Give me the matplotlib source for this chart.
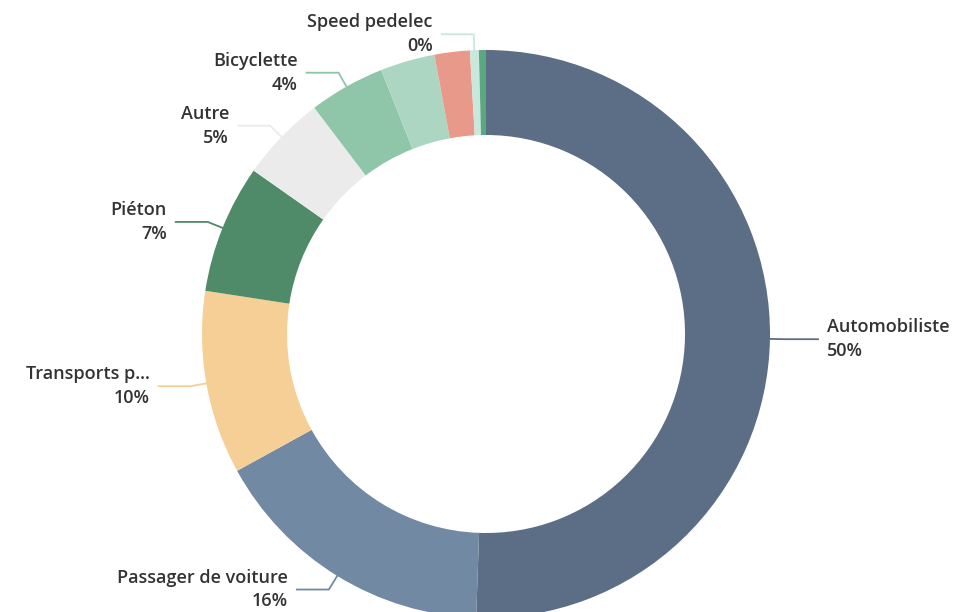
import numpy as np
import matplotlib.pyplot as plt

plt.rcParams['font.family'] = ['Open Sans', 'DejaVu Sans']

# share of trips by mode (clockwise from 12 o'clock)
modes = ['Automobiliste', 'Passager de voiture', 'Transports p...', 'Piéton',
         'Autre', 'Bicyclette', '', '', 'Speed pedelec', '']
shares = [50.4, 16.4, 10.4, 7.3, 4.9, 4.3, 3.1, 2.0, 0.5, 0.4]
colors = ['#5b6e86', '#7189a3', '#f5cf96', '#4f8a69', '#ebebeb',
          '#8fc5a8', '#acd6c2', '#e8998a', '#c9e8dc', '#5aa880']

W, H = 958, 612
cx, cy, r, ring = 486, H - 334, 284, 85

fig = plt.figure(figsize=(W / 100, H / 100), dpi=100)
ax = fig.add_axes([0, 0, 1, 1])

ax.pie(shares, colors=colors, center=(cx, cy), radius=r, startangle=90,
       counterclock=False, wedgeprops=dict(width=ring, linewidth=0))

# pie() resets the limits, so set them afterwards
ax.set_xlim(0, W)
ax.set_ylim(0, H)
ax.set_aspect('equal')
ax.axis('off')

total = sum(shares)
start = 0.0
for name, val, col in zip(modes, shares, colors):
    mid = start + val / total * 360 / 2
    start += val / total * 360
    if not name:
        continue
    a = np.radians(mid)
    x0, y0 = cx + r * np.sin(a), cy + r * np.cos(a)
    x1, y1 = cx + (r + 16) * np.sin(a), cy + (r + 16) * np.cos(a)
    side = 1 if np.sin(a) > 0.05 else -1
    x2 = x1 + side * 32
    ax.plot([x0, x1, x2], [y0, y1, y1], color=col, lw=1.3,
            solid_joinstyle='miter', zorder=1)
    pct = f'{round(val)}%'
    ax.text(x2 + side * 9, y1, f'{name}\n{pct}', ha='left' if side > 0 else 'right',
            va='center', multialignment='left' if side > 0 else 'right',
            fontsize=13, fontweight='semibold', color='#333333', linespacing=1.4)

fig.savefig('out.png', dpi=100)
